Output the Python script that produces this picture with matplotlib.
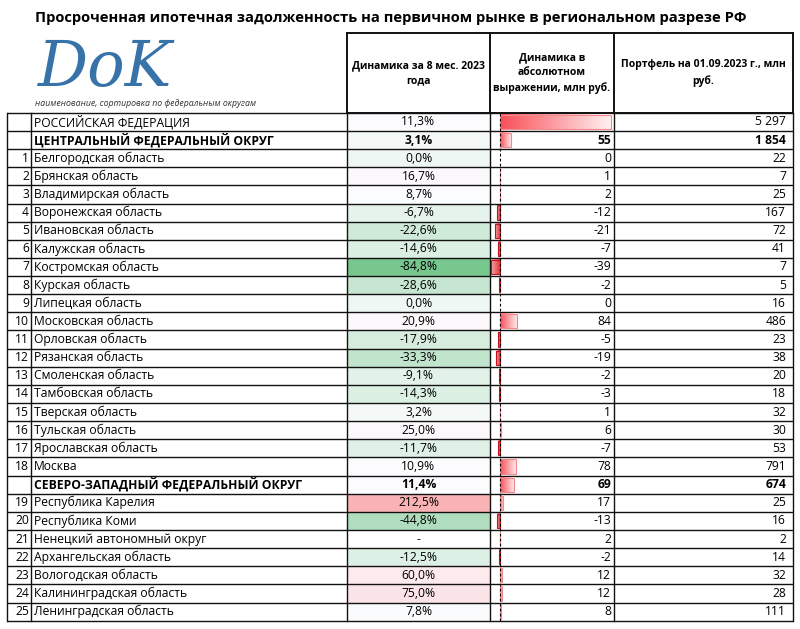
import matplotlib
matplotlib.use("Agg")
import matplotlib.pyplot as plt
import numpy as np
from matplotlib.colors import LinearSegmentedColormap, TwoSlopeNorm

plt.rcParams['font.family'] = ['Open Sans', 'DejaVu Sans']

title = "Просроченная ипотечная задолженность на первичном рынке в региональном разрезе РФ"
headers = ["Динамика за 8 мес. 2023\nгода",
           "Динамика в\nабсолютном\nвыражении, млн руб.",
           "Портфель на 01.09.2023 г., млн\nруб."]
names = ["РОССИЙСКАЯ ФЕДЕРАЦИЯ", "ЦЕНТРАЛЬНЫЙ ФЕДЕРАЛЬНЫЙ ОКРУГ",
         "Белгородская область", "Брянская область", "Владимирская область",
         "Воронежская область", "Ивановская область", "Калужская область",
         "Костромская область", "Курская область", "Липецкая область",
         "Московская область", "Орловская область", "Рязанская область",
         "Смоленская область", "Тамбовская область", "Тверская область",
         "Тульская область", "Ярославская область", "Москва",
         "СЕВЕРО-ЗАПАДНЫЙ ФЕДЕРАЛЬНЫЙ ОКРУГ",
         "Республика Карелия", "Республика Коми", "Ненецкий автономный округ",
         "Архангельская область", "Вологодская область",
         "Калининградская область", "Ленинградская область"]
numbers = ["", "", "1", "2", "3", "4", "5", "6", "7", "8", "9", "10", "11", "12",
           "13", "14", "15", "16", "17", "18", "", "19", "20", "21", "22", "23",
           "24", "25"]
bold_rows = [1, 20]
pct = [11.3, 3.1, 0.0, 16.7, 8.7, -6.7, -22.6, -14.6, -84.8, -28.6, 0.0, 20.9,
       -17.9, -33.3, -9.1, -14.3, 3.2, 25.0, -11.7, 10.9, 11.4, 212.5, -44.8,
       None, -12.5, 60.0, 75.0, 7.8]
absval = [539, 55, 0, 1, 2, -12, -21, -7, -39, -2, 0, 84, -5, -19, -2, -3, 1, 6,
          -7, 78, 69, 17, -13, 2, -2, 12, 12, 8]
portfolio = [5297, 1854, 22, 7, 25, 167, 72, 41, 7, 5, 16, 486, 23, 38, 20, 18,
             32, 30, 53, 791, 674, 25, 16, 2, 14, 32, 28, 111]

W, H = 800, 629
fig = plt.figure(figsize=(W / 100, H / 100), dpi=100)
ax = fig.add_axes([0, 0, 1, 1])
ax.set_xlim(0, W)
ax.set_ylim(H, 0)
ax.axis('off')

# layout (pixels)
xs = [7, 31, 347, 490, 614, 793]
top = 112.8
rh = 18.14
n = len(names)
bottom = top + n * rh
htop = 33

fs = 8.7

# Title
ax.text(35, 18, title, fontsize=10.6, fontweight='bold', va='center', ha='left')
# logo
ax.text(38, 69, "DoK", fontsize=45, color='#3773a9', style='italic',
        family='DejaVu Serif', va='center', ha='left')
ax.text(35, 103, "наименование, сортировка по федеральным округам", fontsize=6.3,
        style='italic', color='#333333', va='center', ha='left')

# color scale for column 2
cmap2 = LinearSegmentedColormap.from_list('gwr', ['#63BE7B', '#FCFCFF', '#F8696B'])
norm2 = TwoSlopeNorm(vmin=-100, vcenter=9, vmax=420)

for i in range(n):
    y0 = top + i * rh
    yc = y0 + rh / 2
    fw = 'bold' if i in bold_rows else 'normal'
    if pct[i] is not None:
        ax.add_patch(plt.Rectangle((xs[2], y0), xs[3] - xs[2], rh,
                                   facecolor=cmap2(norm2(pct[i])), edgecolor='none', zorder=1))
        ptxt = f"{pct[i]:.1f}%".replace('.', ',')
    else:
        ptxt = "-"
    ax.text(xs[0] + 22, yc, numbers[i], fontsize=fs, ha='right', va='center', zorder=5)
    ax.text(xs[1] + 3, yc, names[i], fontsize=fs, ha='left', va='center', fontweight=fw, zorder=5)
    ax.text((xs[2] + xs[3]) / 2, yc, ptxt, fontsize=fs, ha='center', va='center', fontweight=fw, zorder=5)
    ax.text(xs[4] - 3, yc, f"{absval[i]}", fontsize=fs, ha='right', va='center', fontweight=fw, zorder=5)
    ax.text(xs[5] - 7, yc, f"{portfolio[i]:,}".replace(',', ' '), fontsize=fs, ha='right',
            va='center', fontweight=fw, zorder=5)

# grid lines
lc = '#111111'
for i in range(n + 1):
    y = top + i * rh
    ax.plot([xs[0], xs[-1]], [y, y], color=lc, lw=1.0, zorder=6, solid_capstyle='butt')
for x in xs:
    ax.plot([x, x], [top, bottom], color=lc, lw=1.0, zorder=6)

# header box
for x in xs[2:]:
    ax.plot([x, x], [htop, top], color=lc, lw=1.4, zorder=6)
ax.plot([xs[2], xs[-1]], [htop, htop], color=lc, lw=1.4, zorder=6)
ax.plot([xs[2], xs[-1]], [top, top], color=lc, lw=1.4, zorder=6)
hfs = 7.5
ax.text((xs[2] + xs[3]) / 2, 73, headers[0], fontsize=hfs, fontweight='bold', ha='center',
        va='center', linespacing=1.55)
ax.text((xs[3] + xs[4]) / 2, 73, headers[1], fontsize=hfs, fontweight='bold', ha='center',
        va='center', linespacing=1.5)
ax.text((xs[4] + xs[5]) / 2, 73, headers[2], fontsize=hfs, fontweight='bold', ha='center',
        va='center', linespacing=1.55)

# data bars axes in column 3
zero_px = 499.5
max_px = 611
vmax = max(absval)
scale = vmax / (max_px - zero_px)
x_left = -(zero_px - xs[3]) * scale
x_right = (xs[4] - zero_px) * scale
bax = fig.add_axes([xs[3] / W, 1 - bottom / H, (xs[4] - xs[3]) / W, (bottom - top) / H])
bax.set_xlim(x_left, x_right)
bax.set_ylim(n, 0)
bax.axis('off')
bax.patch.set_alpha(0)

pos_cmap = LinearSegmentedColormap.from_list('pos', ['#FA4F58', '#FFF2F2'])
neg_cmap = LinearSegmentedColormap.from_list('neg', ['#F6A8AA', '#E0383E'])
yc_rows = np.arange(n) + 0.5
bars = bax.barh(yc_rows, absval, height=0.78, color='none', zorder=3)
grad = np.linspace(0, 1, 256).reshape(1, -1)
for b, v in zip(bars, absval):
    if v == 0:
        continue
    x0, y0 = b.get_x(), b.get_y()
    w, h = b.get_width(), b.get_height()
    xa, xb = min(x0, x0 + w), max(x0, x0 + w)
    cm = pos_cmap if v > 0 else neg_cmap
    bax.imshow(grad, extent=(xa, xb, y0 + h, y0), cmap=cm, aspect='auto',
               interpolation='bilinear', zorder=2)
    b.set_edgecolor('#F08A8E' if v > 0 else '#C0141C')
    b.set_linewidth(0.8)
bax.set_xlim(x_left, x_right)
bax.set_ylim(n, 0)
bax.axvline(0, color='black', lw=0.8, ls=(0, (2.5, 2)), zorder=4)

fig.savefig("out.png", dpi=100)
